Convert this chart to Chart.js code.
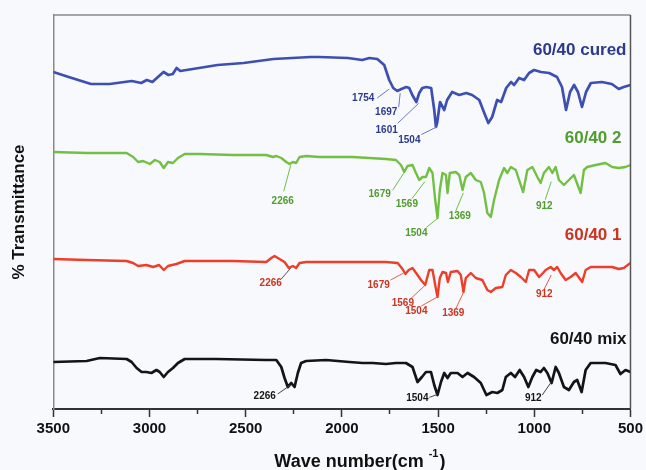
<!DOCTYPE html>
<html>
<head>
<meta charset="utf-8">
<script src="https://cdn.jsdelivr.net/npm/chart.js@4/dist/chart.umd.min.js"></script>
<style>
  html, body { margin: 0; padding: 0; background: #f7f9fc; }
  canvas { display: block; }
</style>
</head>
<body>
<canvas id="ftir" width="646" height="470"></canvas>
<script>
// FTIR spectra of the 60/40 blend: wavenumber (cm-1) and offset transmittance for each sample
const wnCured = [3500,3420,3304,3207,3092,3043,3014,2985,2956,2927,2901,2879,2859,2840,2743,2646,2511,2356,2162,2117,1969,1894,1857,1816,1780,1754,1733,1712,1691,1665,1650,1634,1613,1598,1582,1561,1536,1520,1511,1505,1490,1468,1453,1427,1390,1354,1323,1286,1260,1239,1219,1193,1172,1146,1121,1105,1079,1053,1027,1001,965,923,882,856,835,814,793,773,752,731,706,649,597,561,535,500];
const tCured  = [337,332,325,325,328,326,329,327,332,337,334,335,341,338,341,344,346,350,352,352,351,349,351,350,344,329,321,318,320,322,321,314,307,316,321,322,321,299,282,286,307,299,309,317,314,316,314,309,296,286,292,309,307,321,327,324,331,329,336,339,337,336,332,322,299,317,324,317,302,317,326,327,325,320,322,324];

const wnTwo = [3500,3327,3258,3119,3085,3059,3033,2998,2972,2947,2926,2904,2878,2852,2817,2739,2566,2393,2359,2341,2315,2289,2272,2255,2238,2220,2186,2117,1944,1771,1719,1693,1676,1659,1633,1615,1598,1581,1563,1546,1529,1515,1503,1491,1477,1459,1451,1439,1408,1390,1373,1356,1330,1304,1278,1261,1244,1226,1209,1183,1157,1140,1122,1096,1079,1058,1036,1010,984,967,950,924,906,889,872,846,820,794,759,742,725,681,630,595,561,526,500];
const tTwo  = [257,256,256,256,252,247,248,245,249,247,241,247,246,251,255,255,254,254,252,253,251,247,245,247,246,252,253,252,252,250,249,244,237,243,244,236,229,232,232,241,236,209,191,219,236,234,216,236,237,234,219,232,236,229,227,216,196,192,209,229,241,236,242,239,229,217,239,242,232,226,236,242,236,242,229,224,229,234,216,239,242,244,246,242,241,242,244];

const wnOne = [3500,3327,3119,3085,3059,3016,2981,2950,2926,2904,2860,2817,2566,2393,2367,2350,2324,2298,2276,2255,2238,2220,2186,2065,1944,1771,1710,1685,1670,1653,1633,1607,1589,1567,1546,1529,1515,1503,1491,1477,1459,1449,1434,1399,1382,1368,1356,1330,1304,1270,1244,1226,1200,1166,1148,1122,1096,1070,1044,1027,1001,975,955,941,915,898,881,863,837,811,785,751,733,707,647,595,561,535,500];
const tOne  = [150,149,148,146,143,144,142,144,139,143,145,148,148,147,151,153,150,147,141,143,141,146,147,147,147,147,146,140,135,139,141,134,129,124,139,139,124,112,131,137,136,127,137,138,134,117,131,136,131,129,119,117,121,122,134,139,136,132,127,139,139,132,136,139,142,139,142,136,129,132,136,127,139,142,142,142,140,141,146];

const wnMix = [3500,3327,3258,3119,3093,3067,3041,3016,2990,2964,2947,2926,2904,2878,2852,2817,2652,2393,2341,2315,2298,2281,2263,2246,2229,2212,2186,2082,1961,1892,1840,1771,1719,1667,1633,1607,1584,1563,1537,1520,1503,1485,1468,1451,1434,1399,1373,1347,1313,1278,1249,1218,1192,1166,1148,1122,1100,1076,1053,1031,1010,990,967,950,932,910,889,872,846,820,794,777,754,733,707,664,630,578,552,526,500];
const tMix  = [47,48,51,50,47,41,37,37,36,39,37,32,37,41,46,50,50,49,49,42,31,22,26,22,36,46,48,49,47,46,46,45,46,46,42,27,32,37,37,24,14,27,36,31,36,36,32,36,32,26,14,17,16,19,32,36,32,39,32,22,32,39,37,41,36,26,42,36,22,19,27,29,17,39,46,46,46,44,35,39,37];

// Sample names and assigned band positions (cm-1)
const seriesNames = ['60/40 cured', '60/40 2', '60/40 1', '60/40 mix'];
const peaksCured = [1754, 1697, 1601, 1504];
const peaksTwo   = [2266, 1679, 1569, 1504, 1369, 912];
const peaksOne   = [2266, 1679, 1569, 1504, 1369, 912];
const peaksMix   = [2266, 1504, 912];

// Axis tick values
const xTickLabels = [3500, 3000, 2500, 2000, 1500, 1000, 500];

const FONT = "'Liberation Sans', Arial, Helvetica, sans-serif";

const styles = [
  { line: '#3d4fb2', text: '#2c3a8e', leader: '#6f78c6' },
  { line: '#72c043', text: '#4f9d2d', leader: '#6fbf45' },
  { line: '#ee3e2a', text: '#cc3320', leader: '#e8604c' },
  { line: '#141414', text: '#151515', leader: '#444444' }
];

// label placement: [gap below curve, leader start dx, dy, text dx, dy] in px
const peakLayout = [
  [[9, -12, 9, -26, 9.5], [3.5, -1.5, 14, -14, 19], [8.5, -21, 20, -32, 27], [5, -16, 8, -28, 14]],
  [[2, -7, 26, -8, 36], [2.5, -11, 17, -24, 21], [4.7, -13, 17, -18, 23], [2, -11, 9, -21, 15], [6, -7.5, 18, -3.5, 23], [10.7, -6, 18, -7, 25]],
  [[1, -9.5, 11, -20, 15], [2, -13, 7, -25, 12], [1, -14, 13, -22, 18], [1, -16, 9, -21, 14], [2, -7.5, 16, -10, 20], [7.5, -7, 14, -7, 19]],
  [[1.3, -13, 9, -26, 11], [0, -8, 3, -20, 4], [0, -9, 13, -18, 16]]
];
// series name placement: [level in y units, dx from right edge]
const nameLayout = [[359, -4], [271, -9], [174, -9], [70, -4]];

const wnSets = [wnCured, wnTwo, wnOne, wnMix];
const tSets = [tCured, tTwo, tOne, tMix];
const peakSets = [peaksCured, peaksTwo, peaksOne, peaksMix];

function toPoints(wn, t) {
  return wn.map((w, i) => ({ x: w, y: t[i] }));
}

function valueAt(wn, t, w) {
  for (let i = 0; i < wn.length - 1; i++) {
    const a = wn[i], b = wn[i + 1];
    if ((w <= a && w >= b)) {
      const f = (a - w) / (a - b);
      return t[i] + f * (t[i + 1] - t[i]);
    }
  }
  return t[t.length - 1];
}

const decorations = {
  id: 'decorations',
  beforeDraw(chart) {
    const ctx = chart.ctx;
    ctx.save();
    ctx.fillStyle = '#f7f9fc';
    ctx.fillRect(0, 0, chart.width, chart.height);
    ctx.restore();
  },
  afterDraw(chart) {
    const ctx = chart.ctx;
    const area = chart.chartArea;
    const xs = chart.scales.x, ys = chart.scales.y;
    ctx.save();

    // plot frame (top and right)
    ctx.lineWidth = 1.5;
    ctx.strokeStyle = '#8a8a8a';
    ctx.beginPath();
    ctx.moveTo(area.left, area.top);
    ctx.lineTo(area.right, area.top);
    ctx.stroke();
    ctx.strokeStyle = '#555555';
    ctx.beginPath();
    ctx.moveTo(area.right, area.top);
    ctx.lineTo(area.right, area.bottom);
    ctx.stroke();

    // band assignments with leader lines
    ctx.font = 'bold 10px ' + FONT;
    ctx.textAlign = 'center';
    ctx.textBaseline = 'middle';
    peakSets.forEach((peaks, s) => {
      peaks.forEach((w, k) => {
        const lay = peakLayout[s][k];
        const px = xs.getPixelForValue(w);
        const py = ys.getPixelForValue(valueAt(wnSets[s], tSets[s], w)) + lay[0];
        ctx.strokeStyle = (s === 2 && w === 2266) ? '#555555' : styles[s].leader;
        ctx.lineWidth = 1;
        ctx.beginPath();
        ctx.moveTo(px + lay[1], py + lay[2]);
        ctx.lineTo(px, py);
        ctx.stroke();
        ctx.fillStyle = styles[s].text;
        ctx.fillText(String(w), px + lay[3], py + lay[4]);
      });
    });

    // sample names
    ctx.font = 'bold 17px ' + FONT;
    ctx.textAlign = 'right';
    ctx.textBaseline = 'middle';
    seriesNames.forEach((name, s) => {
      ctx.fillStyle = styles[s].text;
      ctx.fillText(name, area.right + nameLayout[s][1], ys.getPixelForValue(nameLayout[s][0]));
    });

    // x-axis title with superscript unit
    const main = 'Wave number(cm ';
    const sup = '-1';
    const close = ')';
    ctx.textAlign = 'left';
    ctx.textBaseline = 'alphabetic';
    ctx.fillStyle = '#111111';
    ctx.font = 'bold 18px ' + FONT;
    const wMain = ctx.measureText(main).width;
    const wClose = ctx.measureText(close).width;
    ctx.font = 'bold 11px ' + FONT;
    const wSup = ctx.measureText(sup).width;
    const total = wMain + wSup + wClose + 1;
    const cx = (area.left + area.right) / 2 + 18;
    const base = 467;
    let x0 = cx - total / 2;
    ctx.font = 'bold 18px ' + FONT;
    ctx.fillText(main, x0, base);
    ctx.font = 'bold 11px ' + FONT;
    ctx.fillText(sup, x0 + wMain, base - 10);
    ctx.font = 'bold 18px ' + FONT;
    ctx.fillText(close, x0 + wMain + wSup + 1, base);
    ctx.restore();
  }
};

const datasets = [3, 2, 1, 0].map(s => ({
  label: seriesNames[s],
  data: toPoints(wnSets[s], tSets[s]),
  borderColor: styles[s].line,
  borderWidth: s === 0 || s === 3 ? 2.7 : 2.4,
  pointRadius: 0,
  tension: 0,
  borderJoinStyle: 'round',
  fill: false
}));

new Chart(document.getElementById('ftir'), {
  type: 'line',
  data: { datasets },
  options: {
    responsive: false,
    animation: false,
    events: [],
    layout: { padding: { left: 9, right: 14, top: 15, bottom: 0 } },
    plugins: { legend: { display: false }, tooltip: { enabled: false } },
    scales: {
      x: {
        type: 'linear',
        reverse: true,
        min: 500,
        max: 3500,
        afterFit: s => { s.height = 61; },
        ticks: {
          stepSize: 250,
          autoSkip: false,
          maxRotation: 0,
          padding: 3,
          color: '#111111',
          font: { family: FONT, size: 15, weight: 'bold' },
          callback: v => xTickLabels.includes(v) ? String(v) : ''
        },
        grid: {
          display: true,
          drawOnChartArea: false,
          drawTicks: true,
          tickLength: 8,
          tickColor: '#333333',
          tickWidth: 1.5,
          tickBorderDash: c => (c.tick && !xTickLabels.includes(c.tick.value)) ? [4, 20] : []
        },
        border: { display: true, color: '#333333', width: 2 },
        title: { display: false }
      },
      y: {
        min: 0,
        max: 394,
        afterFit: s => { s.width = 44.3; },
        ticks: { display: false },
        grid: { display: false, drawTicks: false },
        border: { display: true, color: '#8a8a8a', width: 1.5 },
        title: {
          display: true,
          text: '% Transmittance',
          color: '#111111',
          font: { family: FONT, size: 17, weight: 'bold' },
          padding: { top: 0, bottom: 24 }
        }
      }
    }
  },
  plugins: [decorations]
});
</script>
</body>
</html>
